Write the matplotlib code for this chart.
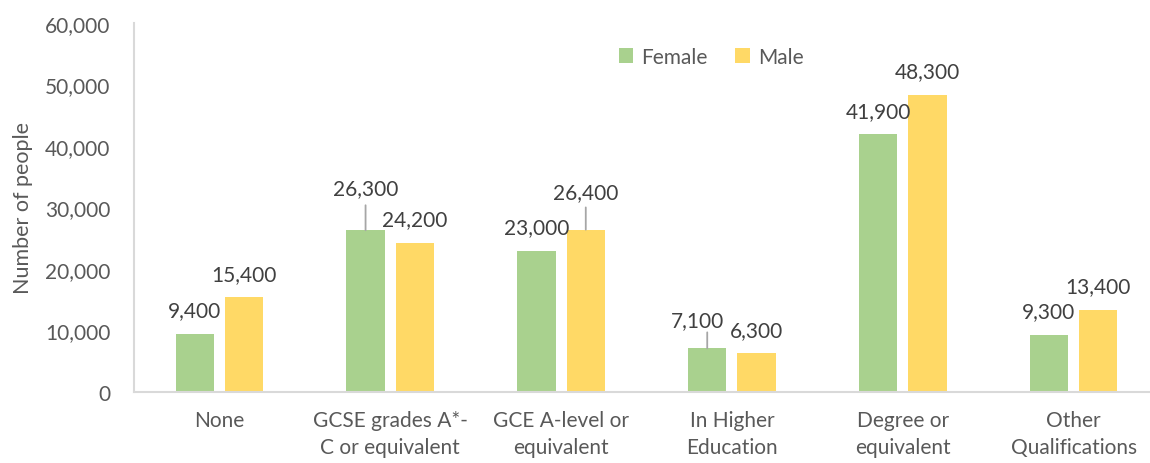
import matplotlib
matplotlib.use("Agg")
import matplotlib.pyplot as plt
import numpy as np

categories = ["None", "GCSE grades A*-\nC or equivalent", "GCE A-level or\nequivalent",
              "In Higher\nEducation", "Degree or\nequivalent", "Other\nQualifications"]
female = [9400, 26300, 23000, 7100, 41900, 9300]
male = [15400, 24200, 26400, 6300, 48300, 13400]
yticks = [0, 10000, 20000, 30000, 40000, 50000, 60000]

# label offsets (points, text centre relative to bar top centre) and leader-line lengths (points)
female_off = [(0, 17), (0, 30), (0, 17), (-7, 20), (0, 17), (0, 17)]
female_leader = [0, 18, 0, 11.5, 0, 0]
male_off = [(0, 17), (0, 17), (0, 27), (0, 17), (0, 17), (0, 17)]
male_leader = [0, 0, 16, 0, 0, 0]

plt.rcParams['font.family'] = ['Lato', 'DejaVu Sans']
TXT = "#595959"
LBL = "#404040"
GREEN = "#a9d18e"
YELLOW = "#ffd966"
FS = 15

fig = plt.figure(figsize=(11.5, 4.64), dpi=100)
ax = fig.add_axes([134/1150, 71/464, (1159-134)/1150, 369/464])

x = np.arange(len(categories))
w = 0.224
gap = 0.065
b1 = ax.bar(x - (w + gap)/2, female, w, color=GREEN, label="Female", zorder=2)
b2 = ax.bar(x + (w + gap)/2, male, w, color=YELLOW, label="Male", zorder=2)

ax.set_xlim(-0.5, len(categories) - 0.5)
ax.set_ylim(0, 60000)
ax.set_yticks(yticks)
ax.set_yticklabels([f"{v:,}" for v in yticks], fontsize=FS, color=TXT)
ax.set_xticks(x)
ax.set_xticklabels(categories, fontsize=FS, color=TXT, linespacing=1.45)
ax.tick_params(length=0)
ax.tick_params(axis='y', pad=17)
ax.tick_params(axis='x', pad=13)
for s in ["top", "right"]:
    ax.spines[s].set_visible(False)
for s in ["left", "bottom"]:
    ax.spines[s].set_color("#d9d9d9")
    ax.spines[s].set_linewidth(1.5)
ax.set_ylabel("Number of people", fontsize=15.5, color=TXT, labelpad=9)

def label(bars, vals, offs, leaders):
    for r, v, off, ld in zip(bars, vals, offs, leaders):
        cx = r.get_x() + r.get_width()/2
        if ld:
            ax.annotate("", xy=(cx, v), xytext=(0, ld), textcoords="offset points",
                        arrowprops=dict(arrowstyle="-", color="#a6a6a6", lw=1.3,
                                        shrinkA=0, shrinkB=0), zorder=3)
        ax.annotate(f"{v:,}", xy=(cx, v), xytext=off, textcoords="offset points",
                    ha="center", va="center", fontsize=FS, color=LBL, zorder=3)

label(b1, female, female_off, female_leader)
label(b2, male, male_off, male_leader)

ax.legend(loc="center", bbox_to_anchor=(0.563, 0.908), ncol=2, frameon=False,
          fontsize=FS, labelcolor=TXT, handlelength=0.7, handleheight=0.7,
          handletextpad=0.4, columnspacing=1.3)

fig.savefig("out.png", dpi=100)
